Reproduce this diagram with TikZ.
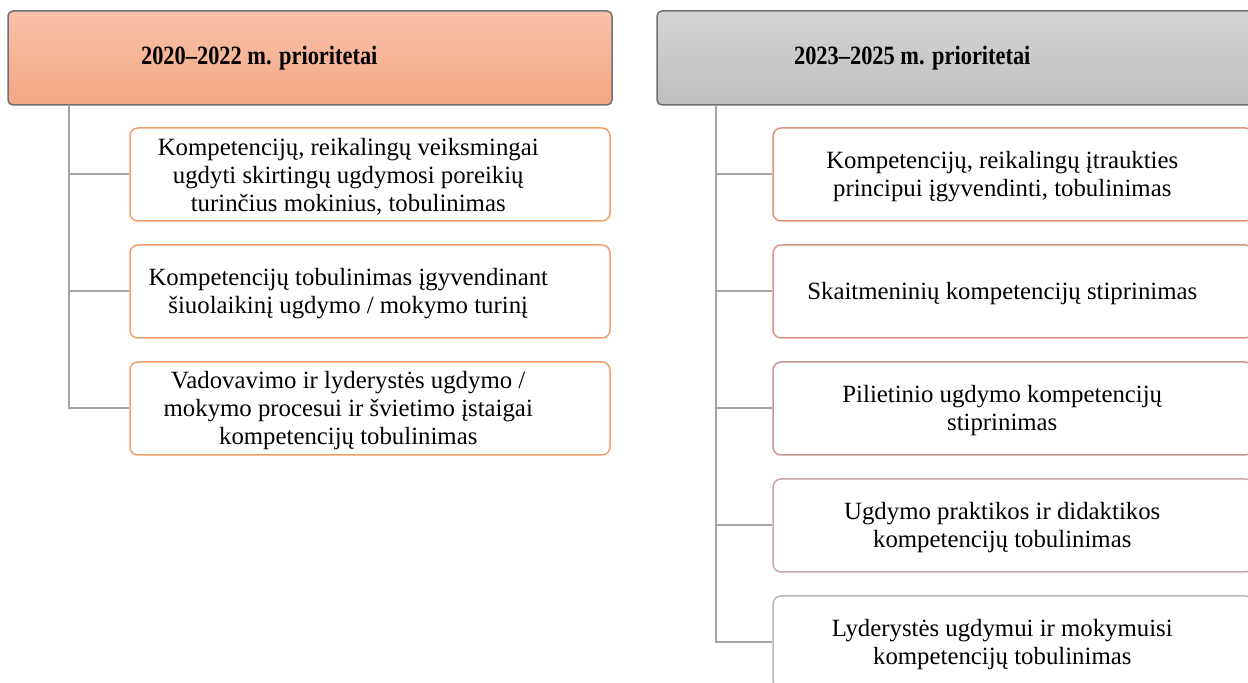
\documentclass[tikz,border=0pt]{standalone}
\usepackage{fontspec}
\setmainfont{Liberation Serif}
\usepackage{graphicx}
\usepackage{tikz}

\definecolor{oranzine}{HTML}{F2A06A}
\definecolor{kraspilka}{HTML}{A5A5A5}
\definecolor{remelis}{HTML}{707070}
\definecolor{rausva1}{HTML}{E0907C}
\definecolor{rausva2}{HTML}{DC9486}
\definecolor{rausva3}{HTML}{C89494}
\definecolor{rausva4}{HTML}{C6A8A8}
\definecolor{rausva5}{HTML}{B6B6B6}

\tikzset{
  antraste/.style={draw=remelis, line width=0.75pt, rounded corners=2.5pt, minimum width=302pt, minimum height=47pt},
  antrtekstas/.style={font=\fontsize{11.2}{13}\selectfont\bfseries, inner sep=0pt},
  langelis/.style={line width=0.75pt, rounded corners=4pt, minimum width=240pt, minimum height=46.5pt},
  tekstas/.style={font=\fontsize{12.4}{14}\selectfont, align=center, inner sep=0pt},
  jungtis/.style={kraspilka, line width=1pt}
}

\begin{document}
\begin{tikzpicture}[x=0.5pt, y=-0.5pt]
            \useasboundingbox (0,0) rectangle (1248,683);
            \clip (0,0) rectangle (1248,683);

            % Antraštės
            \node[antraste, top color={rgb,255:red,248;green,194;blue,170}, bottom color={rgb,255:red,245;green,166;blue,132}] (hdrL) at (310,58) {};
            \node[antrtekstas] (hdrLt) at ([xshift=126pt]hdrL.west) {\scalebox{1}[1.18]{2020–2022 m. prioritetai}};
            \node[antraste, top color={rgb,255:red,213;green,213;blue,213}, bottom color={rgb,255:red,190;green,190;blue,190}] (hdrR) at (959,58) {};
            \node[antrtekstas] (hdrRt) at ([xshift=128pt]hdrR.west) {\scalebox{1}[1.18]{2023–2025 m. prioritetai}};

            % Kairės pusės langeliai
            \node[langelis, draw=oranzine] (l1) at (370,174.5) {};
            \node[tekstas] (l1t) at ([xshift=109.5pt,yshift=-1pt]l1.west) {Kompetencijų, reikalingų veiksmingai\\ ugdyti skirtingų ugdymosi poreikių\\ turinčius mokinius, tobulinimas};
            \node[langelis, draw=oranzine] (l2) at (370,291.5) {};
            \node[tekstas] (l2t) at ([xshift=109.5pt,yshift=-1pt]l2.west) {Kompetencijų tobulinimas įgyvendinant\\ šiuolaikinį ugdymo / mokymo turinį};
            \node[langelis, draw=oranzine] (l3) at (370,408.5) {};
            \node[tekstas] (l3t) at ([xshift=109.5pt,yshift=-1pt]l3.west) {Vadovavimo ir lyderystės ugdymo /\\ mokymo procesui ir švietimo įstaigai\\ kompetencijų tobulinimas};

            % Dešinės pusės langeliai
            \node[langelis, draw=rausva1] (r1) at (1013,174.5) {};
            \node[tekstas] (r1t) at ([xshift=115pt,yshift=-1pt]r1.west) {Kompetencijų, reikalingų įtraukties\\ principui įgyvendinti, tobulinimas};
            \node[langelis, draw=rausva2] (r2) at (1013,291.5) {};
            \node[tekstas] (r2t) at ([xshift=115pt,yshift=-1pt]r2.west) {Skaitmeninių kompetencijų stiprinimas};
            \node[langelis, draw=rausva3] (r3) at (1013,408.5) {};
            \node[tekstas] (r3t) at ([xshift=115pt,yshift=-1pt]r3.west) {Pilietinio ugdymo kompetencijų\\ stiprinimas};
            \node[langelis, draw=rausva4] (r4) at (1013,525.5) {};
            \node[tekstas] (r4t) at ([xshift=115pt,yshift=-1pt]r4.west) {Ugdymo praktikos ir didaktikos\\ kompetencijų tobulinimas};
            \node[langelis, draw=rausva5] (r5) at (1013,642.5) {};
            \node[tekstas] (r5t) at ([xshift=115pt,yshift=-1pt]r5.west) {Lyderystės ugdymui ir mokymuisi\\ kompetencijų tobulinimas};

            % Jungtys
            \coordinate (lk) at (69,105);
            \coordinate (rk) at (716,105);
            \draw[jungtis] (hdrL.south -| lk) |- (l3.west);
            \draw[jungtis] (l1.west -| lk) -- (l1.west);
            \draw[jungtis] (l2.west -| lk) -- (l2.west);
            \draw[jungtis] (hdrR.south -| rk) |- (r5.west);
            \draw[jungtis] (r1.west -| rk) -- (r1.west);
            \draw[jungtis] (r2.west -| rk) -- (r2.west);
            \draw[jungtis] (r3.west -| rk) -- (r3.west);
            \draw[jungtis] (r4.west -| rk) -- (r4.west);
\end{tikzpicture}
\end{document}
